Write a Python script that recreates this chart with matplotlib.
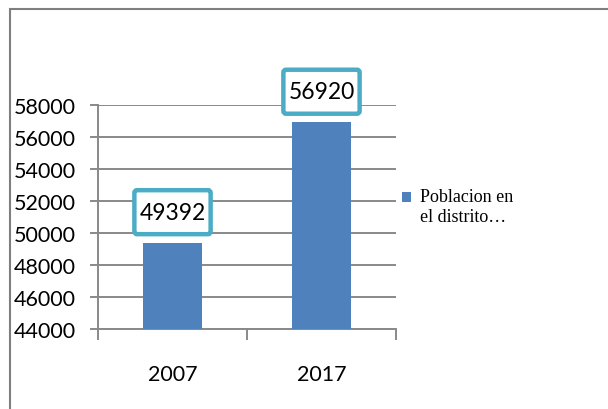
import matplotlib
matplotlib.use("Agg")
import matplotlib.pyplot as plt
from matplotlib.patches import Rectangle, BoxStyle

# --- Daten ---
years = ["2007", "2017"]
population = [49392, 56920]
series_label = "Poblacion en\nel distrito\u2026"
y_ticks = [44000, 46000, 48000, 50000, 52000, 54000, 56000, 58000]

BAR_COLOR = "#4F81BD"
BOX_COLOR = "#4BACC6"
GRID_COLOR = "#898989"

plt.rcParams['font.family'] = ['Lato', 'DejaVu Sans']


def label_box(x0, y0, width, height, mutation_size):
    # abgerundeter Rahmen, vertikal etwas mehr Luft als horizontal (Pixel)
    px, py = 5.0, 11.5
    return BoxStyle.Round(pad=0.0, rounding_size=0.12)(
        x0 - px, y0 - py, width + 2 * px, height + 2 * py, mutation_size)


fig = plt.figure(figsize=(6.08, 4.10), dpi=100)
ax = fig.add_axes([98 / 608, 1 - 330 / 410, 298 / 608, 224 / 410])

x = list(range(len(years)))
bars = ax.bar(x, population, width=0.4, color=BAR_COLOR, label=series_label, zorder=3)

ax.set_xlim(-0.5, len(years) - 0.5)
ax.set_ylim(y_ticks[0], y_ticks[-1])
ax.set_yticks(y_ticks)
ax.set_yticklabels([str(t) for t in y_ticks], fontsize=15.5)
ax.yaxis.grid(True, color=GRID_COLOR, linewidth=1.4, zorder=0)
ax.tick_params(axis='y', length=6, width=1.4, color=GRID_COLOR, pad=10)

# Kategoriegrenzen als Hauptticks, Jahreszahlen als Nebenticks
ax.set_xticks([i - 0.5 for i in range(len(years) + 1)])
ax.set_xticklabels([])
ax.set_xticks(x, minor=True)
ax.set_xticklabels(years, minor=True, fontsize=15.5)
ax.tick_params(axis='x', which='major', length=8, width=1.4, color=GRID_COLOR)
ax.tick_params(axis='x', which='minor', length=0, pad=25)

for side in ['top', 'right']:
    ax.spines[side].set_visible(False)
for side in ['left', 'bottom']:
    ax.spines[side].set_color(GRID_COLOR)
    ax.spines[side].set_linewidth(1.4)

# Datenbeschriftungen mit Rahmen
for xi, val in zip(x, population):
    ax.annotate(str(val), xy=(xi, val), xytext=(0, 22), textcoords='offset points',
                ha='center', va='center', fontsize=16.5, color='black', zorder=5,
                bbox=dict(boxstyle=label_box, facecolor='white',
                          edgecolor=BOX_COLOR, linewidth=3.2))

leg = ax.legend(loc='upper left', bbox_to_anchor=(402 / 608, 1 - 189 / 410),
                bbox_transform=fig.transFigure, frameon=False,
                handlelength=0.48, handleheight=0.48, handletextpad=0.5,
                borderpad=0, borderaxespad=0,
                prop={'family': 'Liberation Serif', 'size': 13})
for t in leg.get_texts():
    t.set_linespacing(1.25)
# Symbol auf Höhe der ersten Zeile schieben
h = leg.legend_handles[0]
h.set_y(h.get_y() + 7)

# Rahmen des Diagrammbereichs
fig.patches.append(Rectangle((10 / 608, -0.1), 1.0, 1 - 10 / 410 + 0.1,
                             transform=fig.transFigure, fill=False,
                             edgecolor='#7f7f7f', linewidth=1.5))

fig.savefig("out.png", dpi=100)
